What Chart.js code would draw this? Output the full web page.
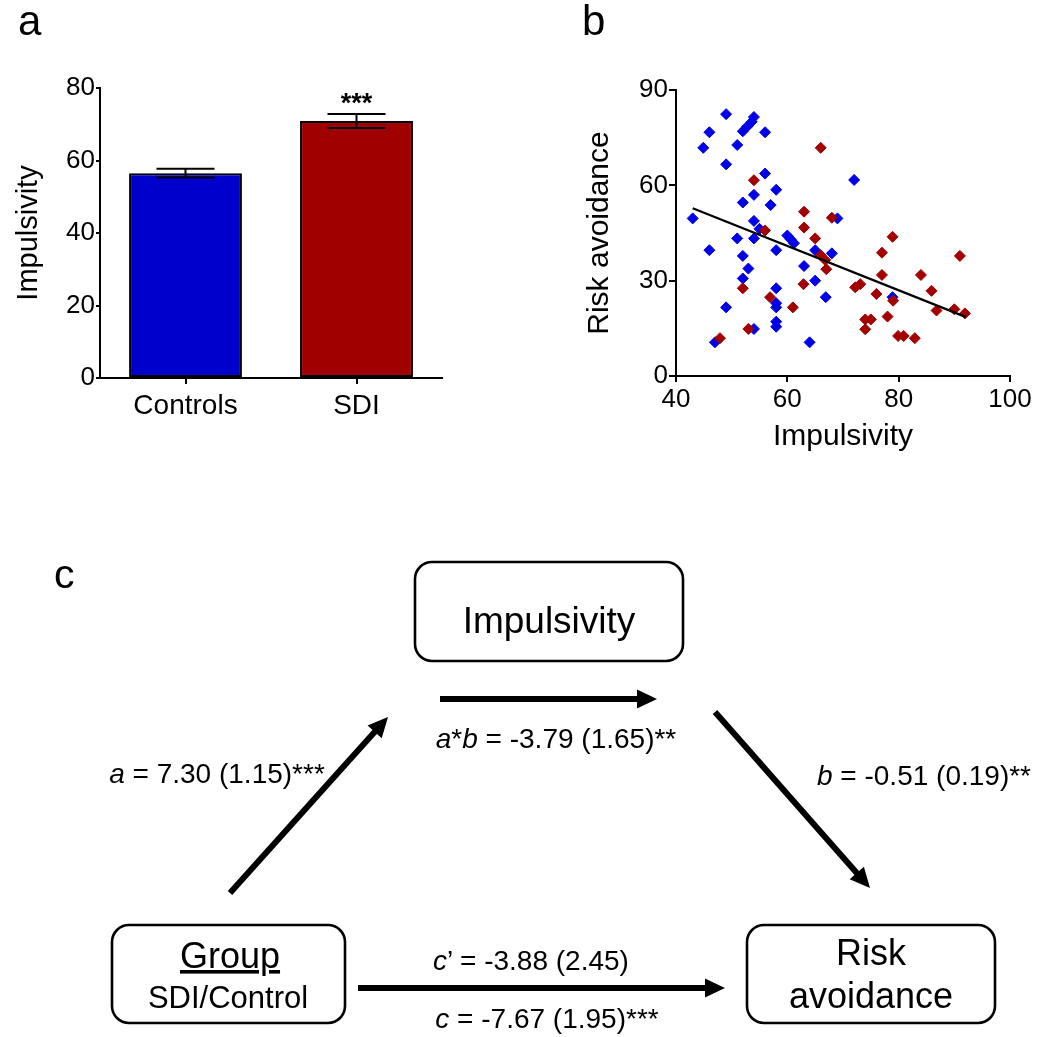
<!DOCTYPE html>
<html>
<head>
<meta charset="utf-8">
<script src="https://cdn.jsdelivr.net/npm/chart.js@4"></script>
<style>
  html, body { margin:0; padding:0; background:#ffffff; }
  #wrap { position:relative; width:1050px; height:1037px; overflow:hidden; font-family:'Liberation Sans', Arial, sans-serif; }
  canvas { position:absolute; }
  svg { position:absolute; left:0; top:0; }
  svg text { font-family:'Liberation Sans', Arial, sans-serif; fill:#000; }
</style>
</head>
<body>
<script>
// ---------- Panel a : bar chart data ----------
const barCategories = ['Controls', 'SDI'];
const barMeans = [56.5, 70.9];
const barSems = [1.2, 1.9];
const barSignificance = ['', '***'];
const barYTicks = [0, 20, 40, 60, 80];

// ---------- Panel b : scatter data ----------
const controlsImpulsivity = [49.0, 54.0, 46.0, 52.0, 52.8, 53.6, 56.0, 44.9, 51.0, 49.0, 56.0, 58.0, 54.0, 52.0, 57.0,
  43.0, 54.0, 55.0, 51.0, 54.0, 60.0, 60.6, 61.2, 69.0, 72.0, 46.0, 52.0, 53.0, 52.0, 58.0, 65.0, 68.0, 63.0, 65.0,
  66.9, 58.0, 58.0, 58.0, 49.0, 58.0, 58.0, 54.0, 47.0, 64.0, 78.9];
const controlsRiskAvoidance = [82.4, 81.5, 76.7, 77.0, 78.5, 80.0, 76.7, 71.8, 72.7, 66.6, 63.7, 58.6, 57.0, 54.6, 53.8,
  49.6, 48.8, 46.3, 43.3, 43.3, 44.2, 43.0, 41.8, 49.6, 61.7, 39.6, 37.8, 33.8, 30.7, 39.6, 39.6, 38.6, 34.6, 30.0,
  24.8, 27.6, 22.9, 21.6, 21.6, 17.1, 15.5, 14.8, 10.6, 10.6, 24.8];
const sdiImpulsivity = [66.0, 54.0, 63.0, 63.0, 56.0, 68.0, 65.0, 78.9, 52.0, 66.0, 66.8, 67.0, 62.9, 56.9, 61.0,
  53.0, 47.9, 77.0, 91.0, 77.0, 84.0, 73.1, 72.2, 76.0, 79.0, 85.9, 86.8, 90.0, 91.9, 78.0, 74.0, 75.0, 74.0, 79.9,
  80.9, 82.9];
const sdiRiskAvoidance = [71.8, 61.6, 51.7, 46.7, 45.8, 49.8, 43.3, 43.8, 27.6, 38.0, 36.5, 33.6, 28.9, 24.8, 21.6,
  14.8, 11.9, 38.8, 37.8, 31.8, 31.8, 28.9, 27.9, 25.8, 23.7, 26.8, 20.6, 21.0, 19.7, 18.7, 17.8, 17.8, 14.7, 12.6,
  12.6, 11.9];
const fitImpulsivity = [43.0, 92.0];
const fitRiskAvoidance = [52.8, 18.6];
const scatterXTicks = [40, 60, 80, 100];
const scatterYTicks = [0, 30, 60, 90];

// ---------- Panel c : mediation labels ----------
const pathA = '7.30 (1.15)***';
const pathB = '-0.51 (0.19)**';
const pathAB = '-3.79 (1.65)**';
const pathCprime = '-3.88 (2.45)';
const pathC = '-7.67 (1.95)***';
</script>

<div id="wrap">
  <canvas id="chartA" width="460" height="400" style="left:0px;top:60px"></canvas>
  <canvas id="chartB" width="510" height="400" style="left:540px;top:60px"></canvas>
  <svg id="diagram" width="1050" height="1037" viewBox="0 0 1050 1037"></svg>
</div>

<script>
const FONT = "'Liberation Sans', Arial, sans-serif";
Chart.defaults.font.family = FONT;
Chart.defaults.color = '#000';

const axisBase = (tickLen, pad, size) => ({
  grid: { display: true, drawOnChartArea: false, drawTicks: true, tickLength: tickLen, color: '#000', lineWidth: 2, tickWidth: 2 },
  border: { display: true, color: '#000', width: 2 },
  ticks: { color: '#000', padding: pad, font: { size: size, family: FONT }, maxRotation: 0, autoSkip: false }
});

// ---- error bars + significance plugin ----
const errorBarPlugin = {
  id: 'errorBars',
  afterDatasetsDraw(chart) {
    const meta = chart.getDatasetMeta(0);
    const ys = chart.scales.y;
    const ctx = chart.ctx;
    ctx.save();
    ctx.strokeStyle = '#000';
    ctx.lineWidth = 2;
    meta.data.forEach((el, i) => {
      const top = ys.getPixelForValue(barMeans[i] + barSems[i]);
      const bot = ys.getPixelForValue(barMeans[i] - barSems[i]);
      const half = 29;
      ctx.beginPath();
      ctx.moveTo(el.x, top); ctx.lineTo(el.x, bot);
      ctx.moveTo(el.x - half, top); ctx.lineTo(el.x + half, top);
      ctx.moveTo(el.x - half, bot); ctx.lineTo(el.x + half, bot);
      ctx.stroke();
      if (barSignificance[i]) {
        ctx.fillStyle = '#000';
        ctx.font = 'bold 27px ' + FONT;
        ctx.textAlign = 'center';
        ctx.textBaseline = 'alphabetic';
        ctx.fillText(barSignificance[i], el.x, top - 2);
      }
    });
    ctx.restore();
  }
};

// ---- Chart a ----
const yA = axisBase(4, 1, 26);
new Chart(document.getElementById('chartA'), {
  type: 'bar',
  data: {
    labels: barCategories,
    datasets: [{
      data: barMeans,
      backgroundColor: ['#0000CC', '#A00000'],
      borderColor: '#000',
      borderWidth: 2,
      borderSkipped: false,
      barPercentage: 0.66,
      categoryPercentage: 1.0
    }]
  },
  options: {
    responsive: false, animation: false, devicePixelRatio: 1,
    layout: { padding: { top: 28, right: 18, left: 0, bottom: 0 } },
    plugins: { legend: { display: false }, tooltip: { enabled: false } },
    scales: {
      x: Object.assign(axisBase(6, 5, 28), {
        offset: true,
        grid: { display: true, offset: false, drawOnChartArea: false, drawTicks: true, tickLength: 6, color: '#000', lineWidth: 2, tickWidth: 2 },
        afterFit: s => { s.height = 82; }
      }),
      y: Object.assign(yA, {
        min: barYTicks[0], max: barYTicks[barYTicks.length - 1],
        ticks: Object.assign(yA.ticks, { stepSize: barYTicks[1] - barYTicks[0] }),
        title: { display: true, text: 'Impulsivity', color: '#000', font: { size: 29, family: FONT }, padding: { top: 12, bottom: 0 } },
        afterFit: s => { s.width = 100; }
      })
    }
  },
  plugins: [errorBarPlugin]
});

// ---- Chart b ----
const toPts = (xs, ys) => xs.map((x, i) => ({ x: x, y: ys[i] }));
const xB = axisBase(6, 2, 26);
const yB = axisBase(7, 1, 26);
new Chart(document.getElementById('chartB'), {
  type: 'scatter',
  data: {
    datasets: [
      {
        type: 'line',
        data: toPts(fitImpulsivity, fitRiskAvoidance),
        borderColor: '#000', borderWidth: 2.2, pointRadius: 0, fill: false, order: 0
      },
      {
        data: toPts(sdiImpulsivity, sdiRiskAvoidance),
        pointStyle: 'rectRot', pointRadius: 5.5, backgroundColor: '#A30000', borderColor: '#A30000', borderWidth: 1, order: 1
      },
      {
        data: toPts(controlsImpulsivity, controlsRiskAvoidance),
        pointStyle: 'rectRot', pointRadius: 5.5, backgroundColor: '#0000E6', borderColor: '#0000E6', borderWidth: 1, order: 2
      }
    ]
  },
  options: {
    responsive: false, animation: false, devicePixelRatio: 1,
    layout: { padding: { top: 30, right: 40, left: 0, bottom: 0 } },
    plugins: { legend: { display: false }, tooltip: { enabled: false } },
    scales: {
      x: Object.assign(xB, {
        type: 'linear',
        min: scatterXTicks[0], max: scatterXTicks[scatterXTicks.length - 1],
        ticks: Object.assign(xB.ticks, { stepSize: scatterXTicks[1] - scatterXTicks[0] }),
        title: { display: true, text: 'Impulsivity', color: '#000', font: { size: 30, family: FONT }, padding: { top: 0, bottom: 5 } },
        afterFit: s => { s.height = 84; }
      }),
      y: Object.assign(yB, {
        type: 'linear',
        min: scatterYTicks[0], max: scatterYTicks[scatterYTicks.length - 1],
        ticks: Object.assign(yB.ticks, { stepSize: scatterYTicks[1] - scatterYTicks[0] }),
        title: { display: true, text: 'Risk avoidance', color: '#000', font: { size: 30, family: FONT }, padding: { top: 42, bottom: 0 } },
        afterFit: s => { s.width = 136; }
      })
    }
  }
});

// ---- Panel labels and mediation diagram (SVG) ----
const svg = document.getElementById('diagram');
const NS = 'http://www.w3.org/2000/svg';
function el(tag, attrs, parent) {
  const e = document.createElementNS(NS, tag);
  for (const k in attrs) e.setAttribute(k, attrs[k]);
  (parent || svg).appendChild(e);
  return e;
}
function text(x, y, size, parts, anchor) {
  const t = el('text', { x: x, y: y, 'font-size': size, 'text-anchor': anchor || 'middle' });
  parts.forEach(p => {
    const s = el('tspan', p.italic ? { 'font-style': 'italic' } : {}, t);
    s.textContent = p.t;
  });
  return t;
}
function box(x, y, w, h) {
  el('rect', { x: x, y: y, width: w, height: h, rx: 17, ry: 17, fill: 'none', stroke: '#000', 'stroke-width': 2.6 });
}
function arrow(x1, y1, x2, y2) {
  const L = 20, H = 9.5;
  const dx = x2 - x1, dy = y2 - y1, len = Math.hypot(dx, dy);
  const ux = dx / len, uy = dy / len;
  const bx = x2 - ux * L, by = y2 - uy * L;
  el('line', { x1: x1, y1: y1, x2: bx + ux * 2, y2: by + uy * 2, stroke: '#000', 'stroke-width': 6 });
  el('polygon', { points: `${x2},${y2} ${bx - uy * H},${by + ux * H} ${bx + uy * H},${by - ux * H}`, fill: '#000' });
}

// panel letters
text(18, 35, 42, [{ t: 'a' }], 'start');
text(582, 35, 42, [{ t: 'b' }], 'start');
text(54, 588, 41, [{ t: 'c' }], 'start');

// boxes
box(415, 562, 268, 99);
text(549, 633, 37, [{ t: 'Impulsivity' }]);
box(112, 925, 233, 98);
const g = text(230, 968, 36, [{ t: 'Group' }]);
g.setAttribute('text-decoration', 'underline');
text(228, 1008, 31, [{ t: 'SDI/Control' }]);
box(747, 925, 248, 98);
text(871, 965, 36, [{ t: 'Risk' }]);
text(871, 1008, 36, [{ t: 'avoidance' }]);

// arrows
arrow(440, 699, 657, 699);
arrow(230, 893, 388, 717);
arrow(715, 712, 870, 888);
arrow(358, 988, 725, 988);

// path labels
text(217, 783, 28, [{ t: 'a', italic: true }, { t: ' = ' + pathA }]);
text(556, 748, 28, [{ t: 'a', italic: true }, { t: '*' }, { t: 'b', italic: true }, { t: ' = ' + pathAB }]);
text(924, 785, 28, [{ t: 'b', italic: true }, { t: ' = ' + pathB }]);
text(531, 970, 28, [{ t: 'c', italic: true }, { t: '\u2019 = ' + pathCprime }]);
text(547, 1028, 28, [{ t: 'c', italic: true }, { t: ' = ' + pathC }]);
</script>
</body>
</html>
